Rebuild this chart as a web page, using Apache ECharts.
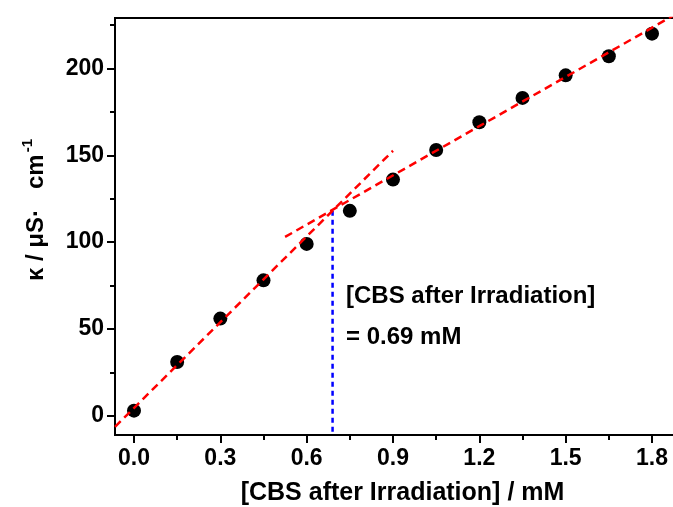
<!DOCTYPE html>
<html>
<head>
<meta charset="utf-8">
<script src="https://cdn.jsdelivr.net/npm/echarts@6/dist/echarts.min.js"></script>
<style>
html,body{margin:0;padding:0;background:#fff;}
#c{width:673px;height:507px;}
</style>
</head>
<body>
<div id="c"></div>
<script>
// ---- data ----
const concX = [0, 0.15, 0.3, 0.45, 0.6, 0.75, 0.9, 1.05, 1.2, 1.35, 1.5, 1.65, 1.8];
const kappaY = [3, 31, 56, 78, 99, 118, 136, 153, 169, 183, 196, 207, 220];
const fitLowX = [-0.066, 0.9];
const fitLowY = [-6.3, 152.6];
const fitHighX = [0.525, 1.93];
const fitHighY = [103, 235.7];
const breakX = [0.69, 0.69];
const breakY = [118, -11];
const xMajor = [0, 0.3, 0.6, 0.9, 1.2, 1.5, 1.8];
const xMinor = [0.15, 0.45, 0.75, 1.05, 1.35, 1.65];
const yMajor = [0, 50, 100, 150, 200];
const yMinor = [25, 75, 125, 175, 225];
const xTitle = '[CBS after Irradiation] / mM';
const yTitleMain = 'κ / μS·';
const yTitleUnit = 'cm';
const yTitleSup = '-1';
const noteLine1 = '[CBS after Irradiation]';
const noteLine2 = '= 0.69 mM';

const FONT = "'Liberation Sans', Arial, sans-serif";
const zip = (a, b) => a.map((v, i) => [v, b[i]]);

const chart = echarts.init(document.getElementById('c'), null, {renderer: 'canvas'});
const xRange = {min: -0.066, max: 1.932};
const yRange = {min: -11, max: 229};

chart.setOption({
  animation: false,
  backgroundColor: '#fff',
  grid: {left: 115, top: 18, width: 575, bottom: 72, show: true, borderColor: '#000', borderWidth: 2,
         backgroundColor: 'transparent', outerBoundsMode: 'none', containLabel: false},
  xAxis: [
    {type: 'value', ...xRange, position: 'bottom',
     axisLine: {show: true, onZero: false, lineStyle: {color: '#000', width: 2}},
     axisTick: {show: true, inside: false, length: 8, lineStyle: {color: '#000', width: 2}, customValues: xMajor},
     axisLabel: {show: true, customValues: xMajor, margin: 12, color: '#000', fontFamily: FONT, fontWeight: 'bold', fontSize: 23,
       formatter: v => v.toFixed(1)},
     splitLine: {show: false},
     name: xTitle, nameLocation: 'middle', nameGap: 46,
     nameTextStyle: {color: '#000', fontFamily: FONT, fontWeight: 'bold', fontSize: 25}},
    {type: 'value', ...xRange, position: 'bottom',
     axisLine: {show: false, onZero: false},
     axisTick: {show: true, inside: false, length: 5, lineStyle: {color: '#000', width: 2}, customValues: xMinor},
     axisLabel: {show: false}, splitLine: {show: false}}
  ],
  yAxis: [
    {type: 'value', ...yRange, position: 'left',
     axisLine: {show: true, onZero: false, lineStyle: {color: '#000', width: 2}},
     axisTick: {show: true, inside: false, length: 8, lineStyle: {color: '#000', width: 2}, customValues: yMajor},
     axisLabel: {show: true, customValues: yMajor, margin: 11, color: '#000', fontFamily: FONT, fontWeight: 'bold', fontSize: 23},
     splitLine: {show: false}},
    {type: 'value', ...yRange, position: 'left',
     axisLine: {show: false, onZero: false},
     axisTick: {show: true, inside: false, length: 5, lineStyle: {color: '#000', width: 2}, customValues: yMinor},
     axisLabel: {show: false}, splitLine: {show: false}}
  ],
  graphic: [
    {type: 'text', x: 34, y: 210, rotation: Math.PI / 2,
     style: {
       text: '{a|' + yTitleMain + '}{b|' + yTitleUnit + '}{s|' + yTitleSup + '}',
       align: 'center', verticalAlign: 'middle',
       rich: {
         a: {fontFamily: FONT, fontWeight: 'bold', fontSize: 24, fill: '#000', verticalAlign: 'bottom', lineHeight: 28, padding: [0, 20, 0, 0]},
         b: {fontFamily: FONT, fontWeight: 'bold', fontSize: 24, fill: '#000', verticalAlign: 'bottom', lineHeight: 28, padding: [0, 2, 0, 0]},
         s: {fontFamily: FONT, fontWeight: 'bold', fontSize: 15, fill: '#000', verticalAlign: 'top', lineHeight: 28, padding: [0, 0, 14, 0]}
       }
     }},
    {type: 'text', x: 346, y: 296,
     style: {text: noteLine1, fontFamily: FONT, fontWeight: 'bold', fontSize: 24, fill: '#000', verticalAlign: 'middle'}},
    {type: 'text', x: 346, y: 337,
     style: {text: noteLine2, fontFamily: FONT, fontWeight: 'bold', fontSize: 24, fill: '#000', verticalAlign: 'middle'}}
  ],
  series: [
    {type: 'scatter', xAxisIndex: 0, yAxisIndex: 0, data: zip(concX, kappaY), symbol: 'circle', symbolSize: 14,
     itemStyle: {color: '#000', opacity: 1}, z: 2},
    {type: 'line', xAxisIndex: 0, yAxisIndex: 0, data: zip(breakX, breakY), symbol: 'none', clip: true,
     lineStyle: {color: '#0000ff', width: 2.5, type: [5, 4]}, z: 3},
    {type: 'line', xAxisIndex: 0, yAxisIndex: 0, data: zip(fitLowX, fitLowY), symbol: 'none', clip: true,
     lineStyle: {color: '#ff0000', width: 2.5, type: [8, 5]}, z: 4},
    {type: 'line', xAxisIndex: 0, yAxisIndex: 0, data: zip(fitHighX, fitHighY), symbol: 'none', clip: true,
     lineStyle: {color: '#ff0000', width: 2.5, type: [8, 5]}, z: 4}
  ]
});
</script>
</body>
</html>
